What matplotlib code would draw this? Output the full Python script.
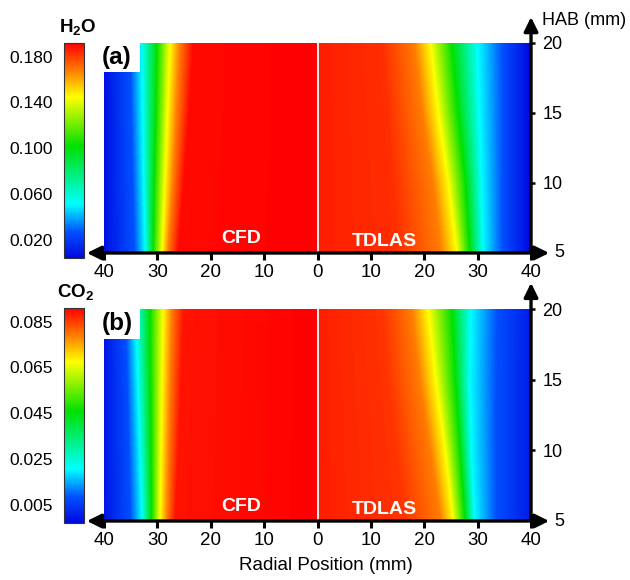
import numpy as np
import matplotlib
matplotlib.use("Agg")
import matplotlib.pyplot as plt
from matplotlib.colors import LinearSegmentedColormap, Normalize
from matplotlib.patches import Rectangle
from matplotlib.cm import ScalarMappable

plt.rcParams['font.family'] = ['Liberation Sans', 'DejaVu Sans']
plt.rcParams['mathtext.fontset'] = 'custom'
plt.rcParams['mathtext.rm'] = 'Liberation Sans'
plt.rcParams['mathtext.bf'] = 'Liberation Sans:bold'

# ---- data ----
hab_rows = [5, 10, 15, 20]   # mm, rows of the radial arrays below

# H2O: mole fraction levels and radial position (mm) where each level sits
h2o_cfd_vals = [0.192, 0.190, 0.168, 0.145, 0.102, 0.051, 0.027, 0.006]
h2o_cfd_r = [
    [0, 26.0, 27.9, 29.0, 30.7, 32.2, 34.2, 40],
    [0, 25.0, 27.0, 28.5, 30.5, 32.5, 34.5, 40],
    [0, 24.0, 26.3, 28.0, 30.2, 32.7, 34.8, 40],
    [0, 23.2, 25.7, 27.5, 30.0, 32.9, 35.0, 40],
]
h2o_tdlas_vals = [0.186, 0.183, 0.168, 0.145, 0.102, 0.051, 0.027, 0.004]
h2o_tdlas_r = [
    [0, 15.0, 23.0, 26.0, 28.4, 31.0, 34.5, 40],
    [0, 14.0, 21.5, 24.4, 27.6, 30.7, 34.5, 40],
    [0, 13.0, 19.5, 22.5, 26.2, 30.3, 34.5, 40],
    [0, 12.0, 18.0, 21.0, 25.0, 30.0, 34.5, 40],
]

# CO2
co2_cfd_vals = [0.091, 0.089, 0.079, 0.0675, 0.046, 0.0205, 0.008, -0.001]
co2_cfd_r = [
    [0, 26.6, 28.1, 29.4, 31.0, 32.8, 35.0, 40],
    [0, 26.0, 27.8, 29.2, 31.1, 33.2, 35.3, 40],
    [0, 25.5, 27.5, 29.0, 31.2, 33.6, 35.6, 40],
    [0, 25.0, 27.2, 28.8, 31.3, 34.0, 36.0, 40],
]
co2_tdlas_vals = [0.088, 0.086, 0.079, 0.0675, 0.046, 0.0205, 0.008, 0.000]
co2_tdlas_r = [
    [0, 16.0, 23.0, 25.3, 27.5, 29.4, 33.5, 40],
    [0, 14.5, 21.0, 23.8, 26.6, 28.8, 33.5, 40],
    [0, 13.0, 19.0, 22.0, 25.7, 28.5, 33.5, 40],
    [0, 12.0, 17.5, 20.6, 25.0, 28.7, 33.7, 40],
]

h2o_ticks = [0.020, 0.060, 0.100, 0.140, 0.180]
co2_ticks = [0.005, 0.025, 0.045, 0.065, 0.085]
radial_ticks = [-40, -30, -20, -10, 0, 10, 20, 30, 40]
hab_ticks = [10, 15, 20]

cmap = LinearSegmentedColormap.from_list('flame', [
    (0.0, '#0008e0'), (0.12, '#0050ff'), (0.25, '#00ffff'),
    (0.52, '#00e000'), (0.75, '#ffff00'), (0.87, '#ff8000'),
    (1.0, '#ff0000')])


def draw_panel(fig, rect, cbar_rect, sides, vmin, vmax, cticks, tag,
               species, species_xy, hab_label=False):
    ax = fig.add_axes(rect)
    levels = np.linspace(vmin, vmax, 256)
    for sign, vals, rr in sides:
        R = np.array(rr, float) * sign
        H = np.repeat(np.array(hab_rows, float)[:, None], R.shape[1], axis=1)
        Z = np.tile(np.array(vals, float), (len(hab_rows), 1))
        ax.contourf(R, H, Z, levels=levels, cmap=cmap, extend='both')
    ax.set_xlim(-40, 40)
    ax.set_ylim(5, 20)
    for s in ax.spines.values():
        s.set_visible(False)

    # centre divider, label notch
    ax.plot([0, 0], [5, 20], color='white', lw=1.3, zorder=3)
    ax.add_patch(Rectangle((-40.8, 17.9), 7.6, 2.6, facecolor='white',
                           edgecolor='none', zorder=4, clip_on=False))
    ax.text(-40.4, 18.95, tag, fontsize=17.5, fontweight='bold',
            ha='left', va='center', zorder=5)
    ax.text(-14.3, 6.0, 'CFD', color='white', fontsize=14,
            fontweight='bold', ha='center', va='center', zorder=5)
    ax.text(12.6, 5.85, 'TDLAS', color='white', fontsize=14,
            fontweight='bold', ha='center', va='center', zorder=5)

    # arrow axes
    ax.annotate('', xy=(-43.2, 5), xytext=(43.4, 5),
                arrowprops=dict(arrowstyle='<|-|>,head_length=0.85,head_width=0.42',
                                lw=2.4, color='black', shrinkA=0, shrinkB=0),
                annotation_clip=False, zorder=6)
    ax.annotate('', xy=(40, 21.85), xytext=(40, 5),
                arrowprops=dict(arrowstyle='-|>,head_length=0.85,head_width=0.42',
                                lw=2.4, color='black', shrinkA=0, shrinkB=0),
                annotation_clip=False, zorder=6)

    ax.set_xticks(radial_ticks)
    ax.set_xticklabels([str(abs(t)) for t in radial_ticks])
    ax.tick_params(axis='x', direction='out', length=5, width=2.2,
                   labelsize=13.5, pad=3)
    ax.yaxis.tick_right()
    ax.set_yticks(hab_ticks)
    ax.tick_params(axis='y', direction='out', length=3, width=1.8,
                   labelsize=13, pad=5)
    ax.text(44.3, 5, '5', fontsize=13, ha='left', va='center')
    if hab_label:
        ax.text(42.0, 21.6, 'HAB (mm)', fontsize=13, ha='left',
                va='center', clip_on=False)

    # colour bar on the left
    cax = fig.add_axes(cbar_rect)
    sm = ScalarMappable(norm=Normalize(vmin, vmax), cmap=cmap)
    cb = fig.colorbar(sm, cax=cax)
    cb.set_ticks(cticks)
    cb.set_ticklabels([f'{t:.3f}' for t in cticks])
    cb.outline.set_linewidth(0.8)
    cb.outline.set_edgecolor('#333333')
    cax.yaxis.set_ticks_position('left')
    cax.tick_params(length=0, labelsize=12.5, pad=8)
    fig.text(species_xy[0], species_xy[1], species, fontsize=13.5,
             ha='center', va='center')
    return ax


fig = plt.figure(figsize=(6.3, 5.8), dpi=100)

draw_panel(fig, [0.1651, 0.5638, 0.6778, 0.3621],
           [0.1016, 0.5552, 0.0317, 0.3707],
           [(-1, h2o_cfd_vals, h2o_cfd_r), (1, h2o_tdlas_vals, h2o_tdlas_r)],
           0.004, 0.192, h2o_ticks, '(a)', r'$\mathbf{H_2O}$',
           (78 / 630, 1 - 27 / 580), hab_label=True)

draw_panel(fig, [0.1651, 0.1017, 0.6778, 0.3655],
           [0.1016, 0.0983, 0.0317, 0.3707],
           [(-1, co2_cfd_vals, co2_cfd_r), (1, co2_tdlas_vals, co2_tdlas_r)],
           -0.003, 0.091, co2_ticks, '(b)', r'$\mathbf{CO_2}$',
           (76 / 630, 1 - 292 / 580))

fig.text(326 / 630, 1 - 566 / 580, 'Radial Position (mm)', fontsize=13.5,
         ha='center', va='center')

fig.savefig('out.png', dpi=100)
